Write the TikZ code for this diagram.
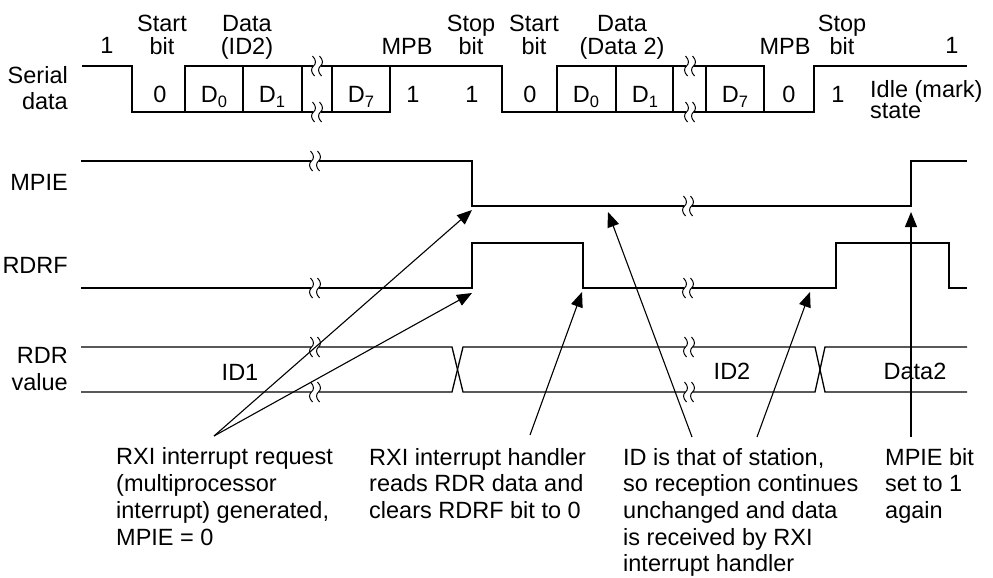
\documentclass[tikz,border=0pt]{standalone}
\usepackage{fontspec}
\setmainfont{Liberation Sans}
\usetikzlibrary{arrows.meta}
\newcommand\sbx[1]{\raisebox{-0.22em}{\fontsize{16.5}{16.5}\selectfont #1}}
\begin{document}
\begin{tikzpicture}[x=1pt,y=-1pt,
  wave/.style={line width=1.3pt},
  txt/.style={inner sep=0pt, font=\fontsize{23.5}{26.7}\selectfont},
  hdr/.style={txt, align=center, anchor=base, font=\fontsize{23.5}{23}\selectfont},
  side/.style={txt, align=right, anchor=base east},
  note/.style={txt, align=left, anchor=base west},
  bitlbl/.style={txt, anchor=base},
  ptr/.style={line width=1.1pt, -{Triangle[length=15pt,width=12pt]}},
  brk/.pic={
    \fill[white] (-4,-3) rectangle (4,3);
    \foreach \dx in {-3.5,3.5}{
      \draw[line width=1pt] (\dx-1,-10) .. controls (\dx+3,-6) and (\dx+2.5,-2) .. (\dx,0) .. controls (\dx-2.5,2) and (\dx-3,6) .. (\dx+1,10);
    }
  }
]
\useasboundingbox (0,0) rectangle (993,578);

% ---------- left labels (anchor = baseline of last line)
\node[side] (lser) at (68,110) {Serial\\data};
\node[side] (lmpie) at (68,190) {MPIE};
\node[side] (lrdrf) at (68,273) {RDRF};
\node[side] (lrdr) at (68,390) {RDR\\value};

% ---------- header labels
\node[bitlbl] (h1a) at (107,53) {1};
\node[hdr] (hst1) at (162,55) {Start\\bit};
\node[hdr] (hd1) at (247,55) {Data\\(ID2)};
\node[bitlbl] (hmpb1) at (407,55) {MPB};
\node[hdr] (hsp1) at (471,55) {Stop\\bit};
\node[hdr] (hst2) at (534,55) {Start\\bit};
\node[hdr] (hd2) at (622,55) {Data\\(Data 2)};
\node[bitlbl] (hmpb2) at (785,55) {MPB};
\node[hdr] (hsp2) at (842,55) {Stop\\bit};
\node[bitlbl] (h1b) at (952,53) {1};

% ---------- serial data waveform
\draw[wave] (82,66) -- (132,66) -- (132,112) -- (390,112) -- (390,66) -- (502,66) -- (502,112) -- (814,112) -- (814,66) -- (967,66);
\draw[wave] (185,112) -- (185,66) -- (390,66);
\draw[wave] (243,66) -- (243,112) (302,66) -- (302,112) (332,66) -- (332,112);
\draw[wave] (557,112) -- (557,66) -- (764,66) -- (764,112);
\draw[wave] (616,66) -- (616,112) (673,66) -- (673,112) (706,66) -- (706,112);
\pic at (317,66) {brk};
\pic at (317,112) {brk};
\pic at (690,66) {brk};
\pic at (690,112) {brk};

\node[bitlbl] (b1) at (160,102) {0};
\node[bitlbl] (b2) at (214,102) {D\sbx{0}};
\node[bitlbl] (b3) at (272,102) {D\sbx{1}};
\node[bitlbl] (b4) at (361,102) {D\sbx{7}};
\node[bitlbl] (b5) at (413,102) {1};
\node[bitlbl] (b6) at (472,102) {1};
\node[bitlbl] (b7) at (530,102) {0};
\node[bitlbl] (b8) at (586,102) {D\sbx{0}};
\node[bitlbl] (b9) at (645,102) {D\sbx{1}};
\node[bitlbl] (b10) at (735,102) {D\sbx{7}};
\node[bitlbl] (b11) at (789,102) {0};
\node[bitlbl] (b12) at (838,102) {1};
\node[note] (idle) at (870,118) {Idle (mark)\\[-6.2pt]state};

% ---------- MPIE
\draw[wave] (81,161) -- (472,161) -- (472,206) -- (911,206) -- (911,161) -- (967,161);
\pic at (315,161) {brk};
\pic at (688,206) {brk};

% ---------- RDRF
\draw[wave] (81,288) -- (472,288) -- (472,243) -- (583,243) -- (583,288) -- (836,288) -- (836,243) -- (949,243) -- (949,288) -- (967,288);
\pic at (315,288) {brk};
\pic at (688,288) {brk};

% ---------- RDR value
\draw[wave] (81,347) -- (452,347) -- (463,392) -- (815,392) -- (825,347) -- (967,347);
\draw[wave] (81,392) -- (452,392) -- (463,347) -- (815,347) -- (825,392) -- (967,392);
\pic at (315,347) {brk};
\pic at (315,392) {brk};
\pic at (689,347) {brk};
\pic at (689,392) {brk};
\node[bitlbl] (vid1) at (240,380) {ID1};
\node[bitlbl] (vid2) at (732,379) {ID2};
\node[bitlbl] (vdat2) at (915,379) {Data2};

% ---------- notes (anchor = baseline of last line)
\node[note] (n1) at (116,545) {RXI interrupt request\\(multiprocessor\\interrupt) generated,\\MPIE = 0};
\node[note] (n2) at (369,518.4) {RXI interrupt handler\\reads RDR data and\\clears RDRF bit to 0};
\node[note] (n3) at (623,571.8) {ID is that of station,\\so reception continues\\unchanged and data\\is received by RXI\\interrupt handler};
\node[note] (n4) at (885,518.4) {MPIE bit\\set to 1\\again};

% ---------- pointers
\coordinate (s1) at (214,436);
\coordinate (s2) at (530,435);
\coordinate (s3a) at (692,437);
\coordinate (s3b) at (757,437);
\coordinate (s4) at (911,437);
\coordinate (t1) at (472,210);
\coordinate (t2) at (472,293);
\coordinate (t3) at (582,292);
\coordinate (t4) at (608,212);
\coordinate (t5) at (810,292);
\coordinate (t6) at (911,212);
\draw[ptr] (s1) -- (t1);
\draw[ptr] (s1) -- (t2);
\draw[ptr] (s2) -- (t3);
\draw[ptr] (s3a) -- (t4);
\draw[ptr] (s3b) -- (t5);
\draw[ptr] (s4) -- (t6);
\end{tikzpicture}
\end{document}
